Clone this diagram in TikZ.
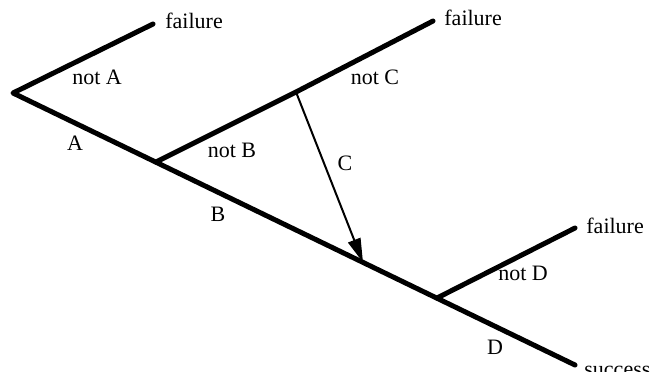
\documentclass[tikz,border=0pt]{standalone}
\usepackage{fontspec}
\setmainfont{Liberation Serif}
\usetikzlibrary{arrows.meta}
\begin{document}
\begin{tikzpicture}[x=0.5pt,y=-0.5pt,
  branch/.style={line width=2.5pt,line cap=round,line join=round},
  jump/.style={line width=1pt,-{Triangle[length=12pt,width=6.5pt]}},
  lbl/.style={font=\fontsize{11}{13}\selectfont,inner sep=0pt}]
\useasboundingbox (0,0) rectangle (656,371);
\coordinate (o) at (13,93);
\coordinate (fa) at (153,24);
\coordinate (b) at (156,162);
\coordinate (c) at (296,92);
\coordinate (fc) at (433,21);
\coordinate (tip) at (363,262.4);
\coordinate (d) at (437,298);
\coordinate (fd) at (575,228);
\coordinate (s) at (575,365);
\draw[branch] (fa) -- (o) -- (s);
\draw[branch] (b) -- (c) -- (fc);
\draw[branch] (d) -- (fd);
\draw[jump] (c) -- (tip);
\node[lbl,anchor=west] (t1) at (165,21) {failure};
\node[lbl,anchor=west] (t2) at (444,18) {failure};
\node[lbl,anchor=west] (t3) at (586,226) {failure};
\node[lbl,anchor=base west] (t4) at (584,376) {success};
\node[lbl] (na) at (97,77) {not A};
\node[lbl] (la) at (75,143) {A};
\node[lbl] (nb) at (232,150) {not B};
\node[lbl] (lb) at (218,214) {B};
\node[lbl] (nc) at (375,77) {not C};
\node[lbl] (lc) at (345,163) {C};
\node[lbl] (nd) at (523,273) {not D};
\node[lbl] (ld) at (495,347) {D};
\end{tikzpicture}
\end{document}
